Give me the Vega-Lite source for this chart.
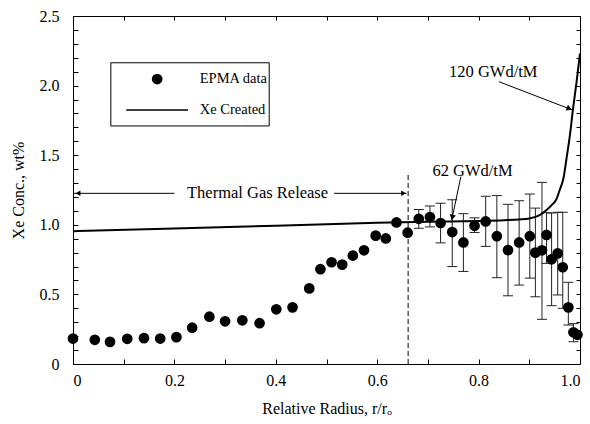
{
  "$schema": "https://vega.github.io/schema/vega-lite/v6.json",
  "width": 507,
  "height": 348,
  "autosize": {"type": "none"},
  "padding": {"left": 73, "top": 16, "right": 10, "bottom": 60},
  "background": "white",
  "config": {
    "view": {"stroke": "black", "strokeWidth": 1},
    "font": "Liberation Serif",
    "axis": {
      "labelFont": "Liberation Serif",
      "labelFontSize": 16,
      "labelColor": "black",
      "titleFont": "Liberation Serif",
      "titleFontSize": 16,
      "titleFontWeight": "normal",
      "titleColor": "black",
      "tickColor": "black",
      "grid": false,
      "domain": false
    }
  },
  "datasets": {
    "pts": [
      {"r": 0.000, "c": 0.183}, {"r": 0.043, "c": 0.174}, {"r": 0.073, "c": 0.159},
      {"r": 0.107, "c": 0.181}, {"r": 0.140, "c": 0.186}, {"r": 0.172, "c": 0.183},
      {"r": 0.204, "c": 0.193}, {"r": 0.235, "c": 0.261}, {"r": 0.269, "c": 0.340},
      {"r": 0.300, "c": 0.307}, {"r": 0.334, "c": 0.314}, {"r": 0.368, "c": 0.293},
      {"r": 0.401, "c": 0.393}, {"r": 0.433, "c": 0.407}, {"r": 0.466, "c": 0.543},
      {"r": 0.488, "c": 0.681}, {"r": 0.510, "c": 0.731}, {"r": 0.531, "c": 0.714},
      {"r": 0.552, "c": 0.779}, {"r": 0.574, "c": 0.817}, {"r": 0.597, "c": 0.922},
      {"r": 0.617, "c": 0.902}, {"r": 0.638, "c": 1.017}, {"r": 0.660, "c": 0.943},
      {"r": 0.682, "c": 1.043}, {"r": 0.704, "c": 1.056}, {"r": 0.725, "c": 1.013},
      {"r": 0.748, "c": 0.948}, {"r": 0.770, "c": 0.873}, {"r": 0.792, "c": 0.993},
      {"r": 0.814, "c": 1.024}, {"r": 0.836, "c": 0.918}, {"r": 0.858, "c": 0.818},
      {"r": 0.880, "c": 0.873}, {"r": 0.901, "c": 0.918}, {"r": 0.912, "c": 0.800},
      {"r": 0.925, "c": 0.817}, {"r": 0.934, "c": 0.927}, {"r": 0.944, "c": 0.752},
      {"r": 0.956, "c": 0.795}, {"r": 0.966, "c": 0.695}, {"r": 0.977, "c": 0.407},
      {"r": 0.987, "c": 0.228}, {"r": 0.995, "c": 0.210}
    ],
    "errs": [
      {"r": 0.682, "lo": 0.975, "hi": 1.110}, {"r": 0.704, "lo": 0.985, "hi": 1.135},
      {"r": 0.725, "lo": 0.870, "hi": 1.155}, {"r": 0.748, "lo": 0.700, "hi": 1.180},
      {"r": 0.770, "lo": 0.665, "hi": 1.080}, {"r": 0.792, "lo": 0.945, "hi": 1.050},
      {"r": 0.814, "lo": 0.845, "hi": 1.205}, {"r": 0.836, "lo": 0.620, "hi": 1.210},
      {"r": 0.858, "lo": 0.490, "hi": 1.147}, {"r": 0.880, "lo": 0.567, "hi": 1.173},
      {"r": 0.901, "lo": 0.617, "hi": 1.221}, {"r": 0.912, "lo": 0.483, "hi": 1.120},
      {"r": 0.925, "lo": 0.321, "hi": 1.305}, {"r": 0.934, "lo": 0.723, "hi": 1.087},
      {"r": 0.944, "lo": 0.419, "hi": 1.085}, {"r": 0.956, "lo": 0.496, "hi": 1.090},
      {"r": 0.966, "lo": 0.400, "hi": 1.090}, {"r": 0.977, "lo": 0.280, "hi": 0.587},
      {"r": 0.987, "lo": 0.160, "hi": 0.290}
    ],
    "curve": [
      {"r": 0.0, "c": 0.954}, {"r": 0.2, "c": 0.974}, {"r": 0.4, "c": 0.994},
      {"r": 0.6, "c": 1.014}, {"r": 0.7, "c": 1.022}, {"r": 0.8, "c": 1.028},
      {"r": 0.85, "c": 1.033}, {"r": 0.88, "c": 1.038}, {"r": 0.9, "c": 1.045},
      {"r": 0.915, "c": 1.06}, {"r": 0.925, "c": 1.08}, {"r": 0.934, "c": 1.106},
      {"r": 0.945, "c": 1.145}, {"r": 0.953, "c": 1.18}, {"r": 0.96, "c": 1.25},
      {"r": 0.968, "c": 1.345}, {"r": 0.973, "c": 1.466}, {"r": 0.98, "c": 1.64},
      {"r": 0.986, "c": 1.825}, {"r": 0.993, "c": 2.02}, {"r": 1.0, "c": 2.232}
    ],
    "segs": [
      {"r": 0.84, "c": 2.028, "r2": 0.985, "c2": 1.825},
      {"r": 0.765, "c": 1.346, "r2": 0.747, "c2": 1.034},
      {"r": 0.0, "c": 1.226, "r2": 0.2, "c2": 1.226},
      {"r": 0.515, "c": 1.226, "r2": 0.658, "c2": 1.226}
    ],
    "heads": [
      {"id": "a120", "r": 0.979, "c": 1.834},
      {"id": "a62", "r": 0.748, "c": 1.053},
      {"id": "left", "r": 0.01, "c": 1.226},
      {"id": "right", "r": 0.652, "c": 1.226}
    ],
    "labels": [
      {"r": 0.829, "c": 2.10, "t": "120 GWd/tM"},
      {"r": 0.788, "c": 1.389, "t": "62 GWd/tM"},
      {"r": 0.364, "c": 1.226, "t": "Thermal Gas Release"}
    ],
    "dash": [{"r": 0.661, "c": 0, "c2": 1.37}],
    "legbox": [{"r": 0.0746, "r2": 0.387, "c": 1.71, "c2": 2.164}],
    "legdot": [{"r": 0.166, "c": 2.047}],
    "legline": [{"r": 0.105, "r2": 0.227, "c": 1.825}],
    "legtext": [
      {"r": 0.25, "c": 2.047, "t": "EPMA data"},
      {"r": 0.25, "c": 1.825, "t": "Xe Created"}
    ]
  },
  "layer": [
    {
      "data": {"name": "legbox"},
      "mark": {"type": "rect", "fill": "white", "stroke": "black", "strokeWidth": 1},
      "encoding": {
        "x": {"field": "r", "type": "quantitative", "scale": {"domain": [0, 1], "nice": false, "zero": false}, "axis": null},
        "x2": {"field": "r2"},
        "y": {"field": "c", "type": "quantitative", "scale": {"domain": [0, 2.5], "nice": false, "zero": false}, "axis": null},
        "y2": {"field": "c2"}
      }
    },
    {
      "data": {"name": "errs"},
      "mark": {"type": "rule", "color": "#222", "strokeWidth": 1},
      "encoding": {
        "x": {"field": "r", "type": "quantitative", "axis": null},
        "y": {"field": "lo", "type": "quantitative", "axis": null},
        "y2": {"field": "hi"}
      }
    },
    {
      "data": {"name": "errs"},
      "transform": [{"fold": ["lo", "hi"], "as": ["end", "val"]}],
      "mark": {"type": "tick", "orient": "horizontal", "size": 10, "thickness": 1, "color": "#222", "opacity": 1},
      "encoding": {
        "x": {"field": "r", "type": "quantitative", "axis": null},
        "y": {"field": "val", "type": "quantitative", "axis": null}
      }
    },
    {
      "data": {"name": "curve"},
      "mark": {"type": "line", "color": "black", "strokeWidth": 2, "interpolate": "monotone"},
      "encoding": {
        "x": {"field": "r", "type": "quantitative", "axis": {"orient": "top", "values": [0,0.1,0.2,0.3,0.4,0.5,0.6,0.7,0.8,0.9,1.0], "labels": false, "tickSize": -4, "title": null}},
        "y": {"field": "c", "type": "quantitative", "axis": {"orient": "right", "values": [0,0.1,0.2,0.3,0.4,0.5,0.6,0.7,0.8,0.9,1.0,1.1,1.2,1.3,1.4,1.5,1.6,1.7,1.8,1.9,2.0,2.1,2.2,2.3,2.4,2.5], "labels": false, "tickSize": -4, "title": null}}
      }
    },
    {
      "data": {"name": "pts"},
      "mark": {"type": "circle", "size": 115, "color": "black", "opacity": 1},
      "encoding": {
        "x": {"field": "r", "type": "quantitative", "axis": {
          "orient": "bottom",
          "values": [0,0.1,0.2,0.3,0.4,0.5,0.6,0.7,0.8,0.9,1.0],
          "labelExpr": "round(datum.value*10)%2==0 ? (datum.value==0 ? '0' : format(datum.value,'.1f')) : ''",
          "tickSize": -5,
          "labelPadding": 13,
          "title": "Relative Radius, r/rₒ",
          "titlePadding": 12
        }},
        "y": {"field": "c", "type": "quantitative", "axis": {
          "orient": "left",
          "values": [0,0.1,0.2,0.3,0.4,0.5,0.6,0.7,0.8,0.9,1.0,1.1,1.2,1.3,1.4,1.5,1.6,1.7,1.8,1.9,2.0,2.1,2.2,2.3,2.4,2.5],
          "labelExpr": "round(datum.value*10)%5==0 ? (datum.value==0 ? '0' : format(datum.value,'.1f')) : ''",
          "tickSize": -5,
          "labelPadding": 19,
          "title": "Xe Conc.,  wt%",
          "titlePadding": 13
        }}
      }
    },
    {
      "data": {"name": "dash"},
      "mark": {"type": "rule", "color": "black", "strokeWidth": 1, "strokeDash": [5, 3]},
      "encoding": {
        "x": {"field": "r", "type": "quantitative", "axis": null},
        "y": {"field": "c", "type": "quantitative", "axis": null},
        "y2": {"field": "c2"}
      }
    },
    {
      "data": {"name": "segs"},
      "mark": {"type": "rule", "color": "black", "strokeWidth": 1},
      "encoding": {
        "x": {"field": "r", "type": "quantitative", "axis": null},
        "y": {"field": "c", "type": "quantitative", "axis": null},
        "x2": {"field": "r2"},
        "y2": {"field": "c2"}
      }
    },
    {
      "data": {"name": "heads"},
      "transform": [{"filter": "datum.id == 'a120'"}],
      "mark": {"type": "point", "shape": "triangle-right", "angle": 22.6, "filled": true, "color": "black", "size": 40, "opacity": 1},
      "encoding": {
        "x": {"field": "r", "type": "quantitative", "axis": null},
        "y": {"field": "c", "type": "quantitative", "axis": null}
      }
    },
    {
      "data": {"name": "heads"},
      "transform": [{"filter": "datum.id == 'a62'"}],
      "mark": {"type": "point", "shape": "triangle-down", "angle": 12, "filled": true, "color": "black", "size": 40, "opacity": 1},
      "encoding": {
        "x": {"field": "r", "type": "quantitative", "axis": null},
        "y": {"field": "c", "type": "quantitative", "axis": null}
      }
    },
    {
      "data": {"name": "heads"},
      "transform": [{"filter": "datum.id == 'left'"}],
      "mark": {"type": "point", "shape": "triangle-left", "filled": true, "color": "black", "size": 30, "opacity": 1},
      "encoding": {
        "x": {"field": "r", "type": "quantitative", "axis": null},
        "y": {"field": "c", "type": "quantitative", "axis": null}
      }
    },
    {
      "data": {"name": "heads"},
      "transform": [{"filter": "datum.id == 'right'"}],
      "mark": {"type": "point", "shape": "triangle-right", "filled": true, "color": "black", "size": 30, "opacity": 1},
      "encoding": {
        "x": {"field": "r", "type": "quantitative", "axis": null},
        "y": {"field": "c", "type": "quantitative", "axis": null}
      }
    },
    {
      "data": {"name": "labels"},
      "mark": {"type": "text", "font": "Liberation Serif", "fontSize": 16.5, "color": "black", "align": "center", "baseline": "middle"},
      "encoding": {
        "x": {"field": "r", "type": "quantitative", "axis": null},
        "y": {"field": "c", "type": "quantitative", "axis": null},
        "text": {"field": "t"}
      }
    },
    {
      "data": {"name": "legdot"},
      "mark": {"type": "circle", "size": 115, "color": "black", "opacity": 1},
      "encoding": {
        "x": {"field": "r", "type": "quantitative", "axis": null},
        "y": {"field": "c", "type": "quantitative", "axis": null}
      }
    },
    {
      "data": {"name": "legline"},
      "mark": {"type": "rule", "color": "black", "strokeWidth": 1.5},
      "encoding": {
        "x": {"field": "r", "type": "quantitative", "axis": null},
        "x2": {"field": "r2"},
        "y": {"field": "c", "type": "quantitative", "axis": null}
      }
    },
    {
      "data": {"name": "legtext"},
      "mark": {"type": "text", "font": "Liberation Serif", "fontSize": 14.5, "color": "black", "align": "left", "baseline": "middle"},
      "encoding": {
        "x": {"field": "r", "type": "quantitative", "axis": null},
        "y": {"field": "c", "type": "quantitative", "axis": null},
        "text": {"field": "t"}
      }
    }
  ],
  "resolve": {"axis": {"x": "independent", "y": "independent"}}
}
